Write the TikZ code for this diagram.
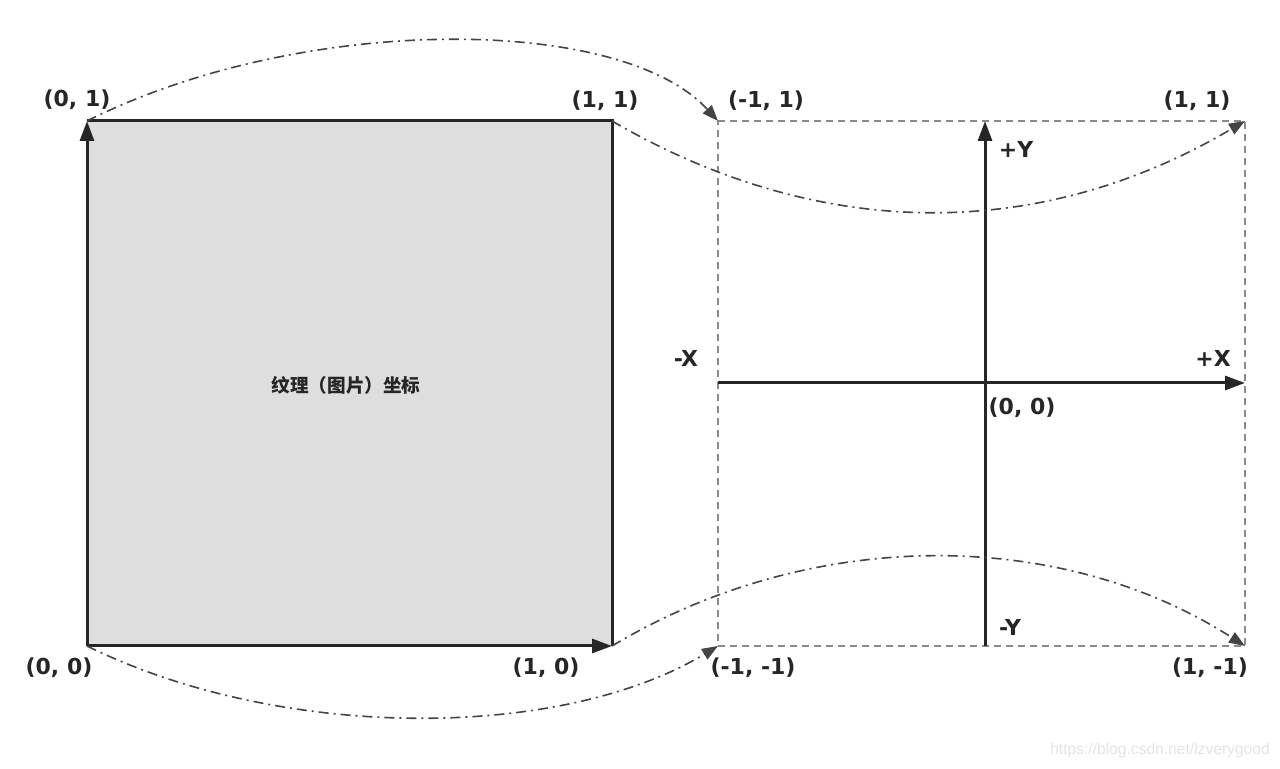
\documentclass[tikz,border=0pt]{standalone}
\usepackage{fontspec}
\setmainfont{DejaVu Sans}
\newfontfamily\cjk{Noto Sans CJK SC}
\newfontfamily\wm{Liberation Sans}
\usetikzlibrary{arrows.meta}
\definecolor{sqfill}{HTML}{DEDEDE}
\definecolor{ink}{HTML}{262626}
\definecolor{dashgray}{HTML}{8A8A8A}
\definecolor{curvegray}{HTML}{444444}
\definecolor{wmgray}{HTML}{E4E4E4}
\tikzset{
  lbl/.style={font=\fontsize{11pt}{13pt}\selectfont\bfseries, text=ink, inner sep=0pt},
  solidedge/.style={draw=ink, line width=1.5pt},
  bigarrow/.style={-{Triangle[length=10pt,width=7pt]}},
  dashedge/.style={draw=dashgray, line width=1pt, dash pattern=on 3.5pt off 2.5pt},
  mapcurve/.style={draw=curvegray, line width=0.8pt, dash pattern=on 5pt off 2.5pt on 1pt off 2.5pt, -{Triangle[length=8pt,width=6pt]}},
}
\begin{document}
\begin{tikzpicture}[x=0.5pt,y=-0.5pt]
\useasboundingbox (0,0) rectangle (1280,769);
% texture square corners
\coordinate (t00) at (87,646);
\coordinate (t10) at (612,646);
\coordinate (t11) at (612,121);
\coordinate (t01) at (87,121);
% NDC rectangle corners
\coordinate (nll) at (718,646);
\coordinate (nlr) at (1245,646);
\coordinate (nur) at (1245,121);
\coordinate (nul) at (718,121);
% axes
\coordinate (ytop) at (985,121);
\coordinate (ybot) at (985,646);
\coordinate (xl) at (718,383);
\coordinate (xr) at (1245,383);

% square
\fill[sqfill] (t00) rectangle (t11);
\draw[solidedge] (t01) -- (t11) -- (t10);
\draw[solidedge, bigarrow] (t00) -- (t01);
\draw[solidedge, bigarrow] (t00) -- (t10);
\node[font=\cjk\fontsize{9.3pt}{11pt}\selectfont\bfseries, text=ink] (tex) at (346,385) {纹理（图片）坐标};

% dashed NDC rectangle
\draw[dashedge] (nul) -- (nur) -- (nlr) -- (nll) -- cycle;

% axes
\draw[solidedge, bigarrow] (ybot) -- (ytop);
\draw[solidedge, bigarrow] (xl) -- (xr);

% mapping curves
\draw[mapcurve] (t01) .. controls (300,14) and (620,14) .. (nul);
\draw[mapcurve] (t11) .. controls (820,242) and (1040,242) .. (nur);
\draw[mapcurve] (t00) .. controls (280,741) and (560,741) .. (nll);
\draw[mapcurve] (t10) .. controls (810,527) and (1060,527) .. (nlr);

% labels
\node[lbl] (l01) at (77,100) {(0, 1)};
\node[lbl] (l11) at (605,101) {(1, 1)};
\node[lbl] (lm11) at (766,101) {(-1, 1)};
\node[lbl] (lr11) at (1197,101) {(1, 1)};
\node[lbl] (l00) at (59,668) {(0, 0)};
\node[lbl] (l10) at (546,668) {(1, 0)};
\node[lbl] (lmm) at (753,668) {(-1, -1)};
\node[lbl] (l1m) at (1210,668) {(1, -1)};
\node[lbl] (py) at (1016,149) {+Y};
\node[lbl] (mx) at (686,358) {-X};
\node[lbl] (px) at (1213,358) {+X};
\node[lbl] (o) at (1022,408) {(0, 0)};
\node[lbl] (my) at (1010,627) {-Y};

% watermark
\node[font=\wm\fontsize{7.8pt}{9pt}\selectfont, text=wmgray, inner sep=0pt] (wm) at (1160,750) {https://blog.csdn.net/lzverygood};
\end{tikzpicture}
\end{document}
